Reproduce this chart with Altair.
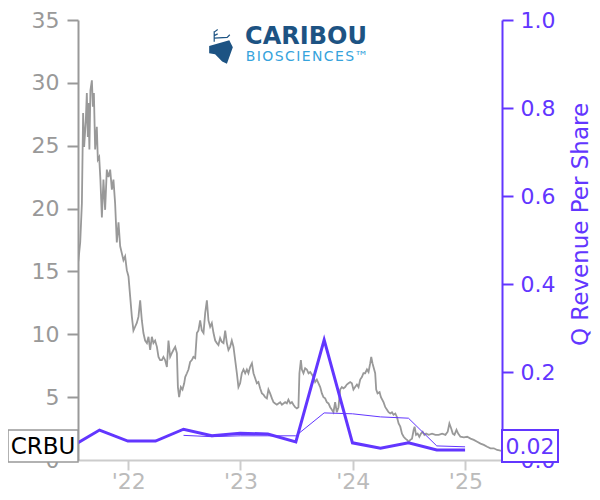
import altair as alt
import pandas as pd

# ---------------- data ----------------
price_t = [
    2021.556, 2021.573, 2021.588, 2021.599, 2021.608, 2021.623, 2021.632, 2021.641, 2021.646, 2021.655,
    2021.664, 2021.677, 2021.686, 2021.695, 2021.706, 2021.721, 2021.730, 2021.742, 2021.753, 2021.766,
    2021.780, 2021.795, 2021.810, 2021.825, 2021.840, 2021.855, 2021.869, 2021.884, 2021.899, 2021.914,
    2021.929, 2021.958, 2021.973, 2021.988, 2022.003, 2022.018,
    2022.033, 2022.047, 2022.062, 2022.077, 2022.092, 2022.107, 2022.122, 2022.136, 2022.151, 2022.167,
    2022.181, 2022.196, 2022.211, 2022.225, 2022.240, 2022.256, 2022.270, 2022.285, 2022.300, 2022.314,
    2022.329, 2022.345, 2022.359, 2022.374, 2022.389, 2022.403, 2022.419, 2022.434, 2022.443, 2022.454,
    2022.469, 2022.484, 2022.499,
    2022.508, 2022.523, 2022.537, 2022.552, 2022.567, 2022.581, 2022.597, 2022.612, 2022.626, 2022.641,
    2022.656, 2022.671, 2022.686, 2022.701, 2022.715, 2022.730, 2022.745, 2022.760, 2022.775, 2022.790,
    2022.804, 2022.819, 2022.834, 2022.849, 2022.864, 2022.879, 2022.893, 2022.908, 2022.923, 2022.938,
    2022.953, 2022.968, 2022.982, 2022.997, 2023.012, 2023.027, 2023.042, 2023.057, 2023.071, 2023.086,
    2023.102,
    2023.116, 2023.131, 2023.146, 2023.160, 2023.175, 2023.191, 2023.205, 2023.220, 2023.235, 2023.249,
    2023.264, 2023.280, 2023.294, 2023.309, 2023.324, 2023.338, 2023.354, 2023.369, 2023.383, 2023.398,
    2023.413, 2023.427, 2023.443, 2023.458, 2023.472, 2023.487, 2023.502, 2023.516, 2023.525, 2023.538,
    2023.547, 2023.561, 2023.576, 2023.591, 2023.606, 2023.621, 2023.636, 2023.650, 2023.665, 2023.680,
    2023.695, 2023.710, 2023.725, 2023.739, 2023.754, 2023.769, 2023.784, 2023.799, 2023.814, 2023.828,
    2023.843, 2023.858, 2023.873, 2023.888, 2023.903, 2023.917, 2023.932, 2023.947, 2023.962, 2023.977,
    2023.992,
    2024.006, 2024.021, 2024.037, 2024.051, 2024.066, 2024.081, 2024.095, 2024.110, 2024.126, 2024.140,
    2024.155, 2024.164, 2024.175, 2024.184, 2024.199, 2024.208, 2024.220, 2024.238, 2024.250, 2024.273,
    2024.289, 2024.304, 2024.318, 2024.333, 2024.348, 2024.362, 2024.378, 2024.393, 2024.407, 2024.422,
    2024.437, 2024.452, 2024.467, 2024.482, 2024.496, 2024.511, 2024.526, 2024.541, 2024.549, 2024.562,
    2024.576, 2024.591, 2024.606, 2024.621, 2024.636, 2024.651, 2024.674, 2024.704, 2024.734, 2024.763,
    2024.794, 2024.823, 2024.843, 2024.858, 2024.874, 2024.888, 2024.903, 2024.921, 2024.936, 2024.956,
    2024.986, 2025.016, 2025.046, 2025.075, 2025.105, 2025.135, 2025.164, 2025.194, 2025.224, 2025.253,
    2025.283, 2025.313, 2025.328,
]
price_v = [
    15.8, 17.3, 20.4, 27.6, 24.9, 27.0, 29.2, 25.7, 28.4, 24.7,
    29.4, 30.2, 28.1, 29.2, 24.7, 26.5, 23.9, 24.1, 22.3, 19.3,
    22.3, 19.9, 23.1, 22.5, 23.1, 21.5, 22.3, 20.4, 17.3, 18.9,
    17.0, 15.9, 16.2, 15.1, 14.6, 13.0,
    11.4, 10.3, 10.6, 10.9, 11.4, 12.7, 11.1, 10.1, 9.5, 9.3,
    9.8, 8.75, 9.8, 9.3, 9.5, 9.0, 8.2, 7.95, 7.95, 8.2,
    7.95, 7.4, 9.5, 8.2, 8.5, 8.75, 9.0, 8.5, 5.8, 5.0,
    5.8, 5.6, 6.1,
    6.6, 6.9, 7.2, 7.8, 7.95, 8.2, 8.1, 10.1, 10.3, 11.1,
    10.3, 10.1, 11.7, 12.7, 11.1, 10.6, 10.9, 10.1, 9.5, 9.3,
    9.15, 9.7, 9.4, 9.3, 10.3, 9.3, 8.75, 9.0, 9.5, 9.0,
    7.95, 6.9, 5.8, 6.1, 6.9, 7.2, 6.9, 7.2, 6.9, 7.4,
    7.7,
    6.9, 6.5, 6.1, 6.2, 5.7, 5.3, 5.2, 5.0, 4.9, 5.6,
    5.3, 4.9, 4.6, 4.5, 4.4, 4.5, 4.6, 4.4, 4.5, 4.6,
    4.5, 4.8, 4.5, 4.6, 4.4, 4.2, 4.1, 4.2, 6.9, 7.95,
    7.2, 6.9, 7.3, 7.2, 6.9, 7.0, 6.8, 6.6, 6.2, 6.4,
    6.1, 5.8, 5.3, 5.0, 4.9, 4.6, 4.5, 4.2, 4.0, 3.8,
    4.6, 3.8, 4.2, 5.6, 5.8, 5.7, 5.8, 6.0, 6.1, 6.2,
    6.1,
    5.6, 5.8, 6.0, 5.8, 6.4, 6.6, 6.9, 6.9, 7.2, 7.0,
    7.7, 8.2, 7.7, 7.4, 6.9, 5.6, 5.3, 5.4, 5.0, 4.6,
    4.2, 4.0, 3.8, 3.7, 3.8, 3.6, 3.7, 3.4, 2.9, 2.65,
    2.1, 1.85, 1.7, 1.6, 1.45, 1.6, 1.7, 2.4, 2.65, 2.0,
    2.1, 1.85, 2.1, 2.25, 2.0, 2.1, 2.0, 2.1, 2.0, 2.0,
    2.1, 2.0, 2.25, 2.9, 2.5, 2.1, 2.0, 2.4, 2.1, 1.85,
    1.8, 1.85, 1.7, 1.6, 1.45, 1.3, 1.2, 1.05, 0.93, 0.93,
    0.8, 0.74, 0.72,
]

q_dates = ["2021-06-30", "2021-09-30", "2021-12-31", "2022-03-31", "2022-06-30",
           "2022-09-30", "2022-12-31", "2023-03-31", "2023-06-30", "2023-09-30",
           "2023-12-31", "2024-03-31", "2024-06-30", "2024-09-30", "2024-12-31"]
q_rev = [0.030, 0.068, 0.043, 0.043, 0.070, 0.055, 0.061, 0.059, 0.041, 0.273,
         0.039, 0.027, 0.039, 0.023, 0.023]

ttm_dates = ["2022-06-30", "2022-09-30", "2022-12-31", "2023-03-31", "2023-06-30",
             "2023-09-30", "2023-12-31", "2024-03-31", "2024-06-30", "2024-09-30",
             "2024-12-31"]
ttm_rev = [0.056, 0.053, 0.055, 0.055, 0.055, 0.107, 0.105, 0.098, 0.095, 0.032, 0.030]

ticker = "CRBU"
last_rev_label = "0.02"
rev_title = "Q Revenue Per Share"
year_ticks = [2022, 2023, 2024, 2025]

# ---------------- helpers ----------------
def frac_to_date(t):
    y = int(t)
    start = pd.Timestamp(year=y, month=1, day=1)
    end = pd.Timestamp(year=y + 1, month=1, day=1)
    return (start + (end - start) * (t - y)).strftime("%Y-%m-%dT%H:%M:%S")

def iso(d):
    return pd.Timestamp(d).strftime("%Y-%m-%dT%H:%M:%S")

price_df = pd.DataFrame({"date": [frac_to_date(t) for t in price_t], "price": price_v})
rev_df = pd.DataFrame({"date": [iso(d) for d in q_dates], "rev": q_rev})
ttm_df = pd.DataFrame({"date": [iso(d) for d in ttm_dates], "rev": ttm_rev})
one = pd.DataFrame({"a": [0]})

PURPLE = "#6236ff"
GRAY = "#999999"
FONT = "DejaVu Sans"

x_scale = alt.Scale(domain=[alt.DateTime(year=2021, month=7, date=22),
                            alt.DateTime(year=2025, month=4, date=30)])
x_axis = alt.Axis(values=[alt.DateTime(year=y, month=1, date=1) for y in year_ticks],
                  format="'%y", labelColor="#bbbbbb", labelFontSize=22, labelFont=FONT,
                  domainColor="#cccccc", domainWidth=2, tickColor="#cccccc", tickWidth=2,
                  tickSize=10, labelPadding=1, grid=False, title=None)
x_enc = alt.X("date:T", scale=x_scale, axis=x_axis)

price = alt.Chart(price_df).mark_line(color=GRAY, strokeWidth=1.8, clip=True).encode(
    x=x_enc,
    y=alt.Y("price:Q", scale=alt.Scale(domain=[0, 35], nice=False),
            axis=alt.Axis(orient="left", values=[0, 5, 10, 15, 20, 25, 30, 35],
                          labelColor=GRAY, labelFontSize=22, labelFont=FONT,
                          domainColor=GRAY, domainWidth=2, tickColor=GRAY, tickWidth=2,
                          tickSize=11, labelPadding=8, grid=False, title=None)),
)

rev_axis = alt.Axis(orient="right", values=[0, 0.2, 0.4, 0.6, 0.8, 1.0], format=".1f",
                    labelColor=PURPLE, labelFontSize=22, labelFont=FONT,
                    domainColor=PURPLE, domainWidth=2, tickColor=PURPLE, tickWidth=2,
                    tickSize=11, labelPadding=7, grid=False,
                    title=rev_title, titleColor=PURPLE, titleFontSize=23, titleFont=FONT,
                    titleFontWeight="normal", titleAngle=270, titleAlign="center",
                    titleBaseline="middle", titleX=78, titleY=204)
rev_scale = alt.Scale(domain=[0, 1], nice=False)

rev_thick = alt.Chart(rev_df).mark_line(color=PURPLE, strokeWidth=3, clip=True).encode(
    x=x_enc, y=alt.Y("rev:Q", scale=rev_scale, axis=rev_axis))
rev_thin = alt.Chart(ttm_df).mark_line(color=PURPLE, strokeWidth=1, clip=True).encode(
    x=x_enc, y=alt.Y("rev:Q", scale=rev_scale, axis=rev_axis))

# last-value boxes
box_l = alt.Chart(one).mark_rect(fill="white", stroke=GRAY, strokeWidth=1.5).encode(
    x=alt.value(-70), x2=alt.value(0), y=alt.value(410), y2=alt.value(442))
txt_l = alt.Chart(one).mark_text(text=ticker, font=FONT, fontSize=23, color="black",
                                 align="center", baseline="middle").encode(
    x=alt.value(-35), y=alt.value(427))
box_r = alt.Chart(one).mark_rect(fill="white", stroke=PURPLE, strokeWidth=2).encode(
    x=alt.value(424), x2=alt.value(480), y=alt.value(410), y2=alt.value(442))
txt_r = alt.Chart(one).mark_text(text=last_rev_label, font=FONT, fontSize=22, color=PURPLE,
                                 align="center", baseline="middle").encode(
    x=alt.value(452), y=alt.value(427))

# logo
logo1 = alt.Chart(one).mark_text(text="CARIBOU", font=FONT, fontSize=24, fontWeight="bold",
                                 color="#1d5383", align="center", baseline="middle").encode(
    x=alt.value(228), y=alt.value(17))
logo2 = alt.Chart(one).mark_text(text="B\u200aI\u200aO\u200aS\u200aC\u200aI\u200aE\u200aN\u200aC\u200aE\u200aS\u2122",
                                 font=FONT, fontSize=14, color="#36a3dc",
                                 align="center", baseline="middle").encode(
    x=alt.value(229), y=alt.value(37))
icon = alt.Chart(one).mark_point(
    shape="M -1 -0.5 L 0.7 -1 L 1 -0.4 L 0.5 1 L 0.1 0.8 L -0.5 0.2 L -1 0.1 Z",
    filled=True, size=560, color="#1d5383", opacity=1).encode(
    x=alt.value(143), y=alt.value(32))
antler = alt.Chart(one).mark_point(
    shape="M -0.9 1 L -0.9 -0.2 M -0.9 0.3 L -0.5 0.1 M -0.9 -0.1 L -0.5 -0.4 M -0.9 0.6 L 0.6 0.5 L 0.9 0.2",
    filled=False, size=300, color="#1d5383", strokeWidth=1.2, opacity=1).encode(
    x=alt.value(144), y=alt.value(13))

chart = alt.layer(
    price, alt.layer(rev_thick, rev_thin),
    box_l, txt_l, box_r, txt_r, logo1, logo2, icon, antler,
).resolve_scale(y="independent").properties(
    width=424, height=440,
    autosize=alt.AutoSizeParams(type="none"),
    padding={"left": 70, "top": 12, "right": 90, "bottom": 32},
).configure_view(stroke=None)

chart.save("out.html", embed_options={"renderer": "svg", "actions": False})
